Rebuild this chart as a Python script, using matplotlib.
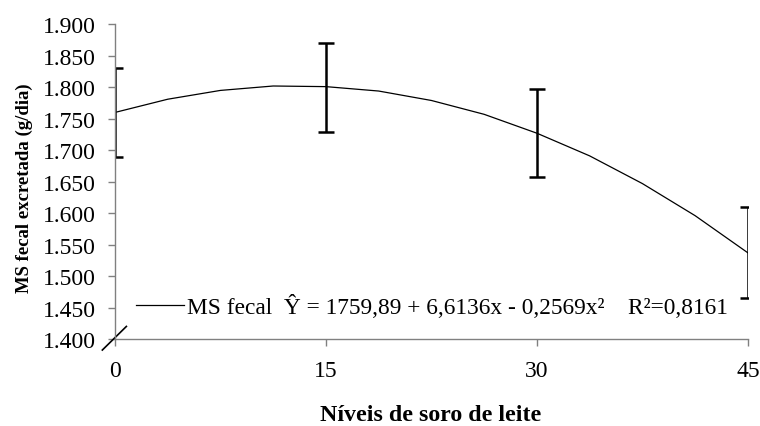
import matplotlib
matplotlib.use("Agg")
import matplotlib.pyplot as plt
from matplotlib.ticker import FuncFormatter

# Data (g/dia)
levels = [0, 15, 30, 45]
means = [1760, 1800, 1727, 1537]
errs = [71, 71, 70, 72]

curve_x = [0, 3.75, 7.5, 11.25, 15, 18.75, 22.5, 26.25, 30, 33.75, 37.5, 41.25, 45]
curve_y = [1760, 1781, 1795, 1802, 1801, 1794, 1779, 1757, 1727, 1691, 1647, 1596, 1537]

y_ticks = [1400, 1450, 1500, 1550, 1600, 1650, 1700, 1750, 1800, 1850, 1900]
x_ticks = [0, 15, 30, 45]

legend_label = "MS fecal  Ŷ = 1759,89 + 6,6136x - 0,2569x²    R²=0,8161"

plt.rcParams['font.family'] = ['Liberation Serif', 'DejaVu Serif']

fig = plt.figure(figsize=(7.6, 4.27), dpi=100)
ax = fig.add_axes([0.1513, 0.2037, 0.8327, 0.737])

axis_color = '#808080'
ax.plot(curve_x, curve_y, color='black', lw=0.9, label=legend_label)
ax.errorbar(levels, means, yerr=errs, fmt='none', ecolor='black',
            elinewidth=1.8, capsize=5.5, capthick=1.8)

ax.set_xlim(0, 45)
ax.set_ylim(1400, 1900)
ax.set_xticks(x_ticks)
ax.set_yticks(y_ticks)
ax.yaxis.set_major_formatter(FuncFormatter(lambda v, p: f"{int(v)//1000}.{int(v)%1000:03d}"))

for s in ['top', 'right']:
    ax.spines[s].set_visible(False)
for s in ['left', 'bottom']:
    ax.spines[s].set_color(axis_color)
    ax.spines[s].set_linewidth(1.0)
ax.tick_params(axis='both', direction='out', length=5, width=1.0, color=axis_color,
               labelsize=17, labelcolor='black')
ax.tick_params(axis='x', pad=10)
ax.tick_params(axis='y', pad=8.5)

ax.set_ylabel("MS fecal excretada (g/dia)", fontsize=13.5, fontweight='bold')
ax.yaxis.set_label_coords(-0.1295, 0.481)
ax.set_xlabel("Níveis de soro de leite", fontsize=17.2, fontweight='bold')
ax.xaxis.set_label_coords(0.499, -0.205)

# axis break mark
ax.plot([-0.02, 0.018], [-0.035, 0.04], transform=ax.transAxes, color='black',
        lw=1.2, clip_on=False)

leg = ax.legend(loc='center left', bbox_to_anchor=(0.033, 0.105), frameon=False,
                fontsize=16.8, handlelength=2.05, handletextpad=0.15, borderaxespad=0,
                borderpad=0)

fig.savefig("out.png", dpi=100)
